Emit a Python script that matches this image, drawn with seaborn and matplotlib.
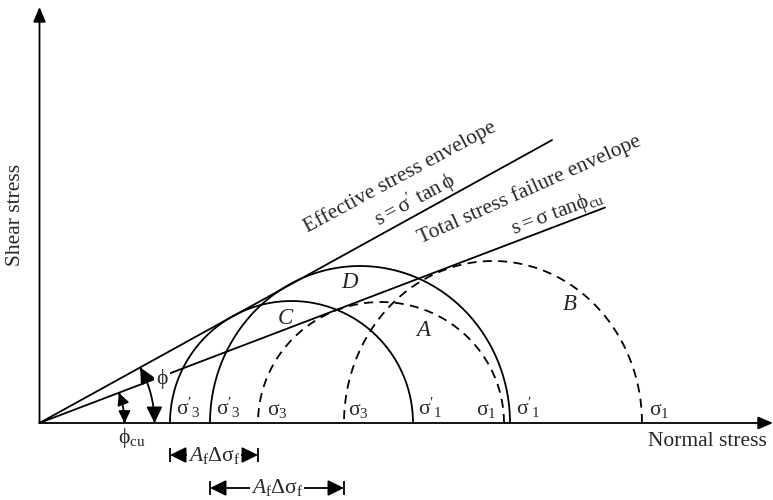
import numpy as np
import pandas as pd
import matplotlib
matplotlib.use("Agg")
import matplotlib.pyplot as plt
from matplotlib.patches import FancyArrowPatch
from matplotlib.path import Path
import seaborn as sns

# ---------------- data (arbitrary stress units) ----------------
circle_names = ["C", "D", "A", "B"]
circle_kind = ["effective", "effective", "total", "total"]
sigma3 = [130.5, 170.5, 218.5, 304.5]     # minor principal stress
sigma1 = [373.5, 470.5, 464.5, 602.5]     # major principal stress
tau_top = [122.0, 157.0, 121.0, 162.0]    # drawn peak shear stress
sigma3_labels = ["$\\sigma'_3$", "$\\sigma'_3$", "$\\sigma_3$", "$\\sigma_3$"]
sigma1_labels = ["$\\sigma'_1$", "$\\sigma'_1$", "$\\sigma_1$", "$\\sigma_1$"]

slope_eff = 0.552      # tan(phi)
slope_tot = 0.381      # tan(phi_cu)
sigma_end_eff = 512.5
sigma_end_tot = 565.5

# ---------------- style ----------------
sns.set_theme(style="white")
plt.rcParams["font.family"] = ["Liberation Serif", "DejaVu Serif"]
plt.rcParams["mathtext.fontset"] = "custom"
plt.rcParams["mathtext.rm"] = "Liberation Serif"
plt.rcParams["mathtext.it"] = "Liberation Serif:italic"
plt.rcParams["mathtext.default"] = "regular"

fig = plt.figure(figsize=(7.73, 5.0), dpi=100)
ax = fig.add_axes([0, 0, 1, 1])
ax.set_xlim(-39.5, 733.5)
ax.set_ylim(-77, 423)
ax.axis("off")

LW = 1.3
FS = 15.5

# axes arrows
ax.annotate("", xy=(733.5, 0), xytext=(0, 0),
            arrowprops=dict(arrowstyle="-|>,head_length=0.75,head_width=0.32",
                            lw=LW, color="black", shrinkA=0, shrinkB=0))
ax.annotate("", xy=(0, 416), xytext=(0, 0),
            arrowprops=dict(arrowstyle="-|>,head_length=0.75,head_width=0.32",
                            lw=LW, color="black", shrinkA=0, shrinkB=0))

# ---------------- envelopes ----------------
env = pd.DataFrame({
    "sigma": [0, sigma_end_eff, 0, sigma_end_tot],
    "tau": [0, slope_eff * sigma_end_eff, 0, slope_tot * sigma_end_tot],
    "env": ["eff", "eff", "tot", "tot"],
})
sns.lineplot(data=env, x="sigma", y="tau", units="env", estimator=None,
             sort=False, color="black", lw=LW, ax=ax, legend=False)

# ---------------- Mohr semicircles ----------------
t = np.linspace(0, np.pi, 200)
for name, kind, s3, s1, h in zip(circle_names, circle_kind, sigma3, sigma1, tau_top):
    c = (s1 + s3) / 2
    r = (s1 - s3) / 2
    d = pd.DataFrame({"sigma": c + r * np.cos(t), "tau": h * np.sin(t)})
    sns.lineplot(data=d, x="sigma", y="tau", sort=False, estimator=None,
                 color="black", lw=LW, ax=ax,
                 linestyle="-" if kind == "effective" else (0, (5, 3.5)))

# circle letters
letter_pos = {"C": (245.5, 105), "D": (310.5, 141), "A": (383.5, 93), "B": (530.5, 118)}
for n in circle_names:
    ax.text(*letter_pos[n], n, fontsize=16.5, style="italic", ha="center", va="center")

# sigma labels
s3_off = [6, 6, 9, 4]
for s, lab, off in zip(sigma3, sigma3_labels, s3_off):
    ax.text(s + off, 8, lab, fontsize=FS, ha="left", va="baseline")
s1_off = [5, 6, -8, 7]
for s, lab, off in zip(sigma1, sigma1_labels, s1_off):
    ax.text(s + off, 8, lab, fontsize=FS, ha="left" if off > 0 else "right", va="baseline")

# envelope annotations
ax.text(360.5, 246, "Effective stress envelope", fontsize=FS, rotation=28.3,
        ha="center", va="center", rotation_mode="anchor")
ax.text(375.5, 222.3, "$s = \\sigma'\\ \\mathrm{tan}\\,\\phi$", fontsize=FS, rotation=28.3,
        ha="center", va="center", rotation_mode="anchor")
ax.text(490.5, 233, "Total stress failure envelope", fontsize=FS, rotation=24,
        ha="center", va="center", rotation_mode="anchor")
ax.text(517.5, 210, "$s = \\sigma\\ \\mathrm{tan}\\phi_{cu}$", fontsize=FS, rotation=20.5,
        ha="center", va="center", rotation_mode="anchor")

# axis titles
ax.text(-23.5, 208, "Shear stress", fontsize=FS, rotation=90, ha="center", va="center")
ax.text(668, -19, "Normal stress", fontsize=FS, ha="center", va="center")

# angle arcs
def angle_arc(radius, slope, scale):
    a = np.linspace(0, np.arctan(slope), 40)
    verts = np.column_stack([radius * np.cos(a), radius * np.sin(a)])
    p = FancyArrowPatch(path=Path(verts), arrowstyle="<|-|>,head_length=0.65,head_width=0.32",
                        mutation_scale=scale, lw=LW, color="black",
                        shrinkA=0, shrinkB=0)
    ax.add_patch(p)

angle_arc(115, slope_eff, 15)
angle_arc(85, slope_tot, 11)
ax.text(122.5, 44, "$\\phi$", fontsize=FS, ha="center", va="center",
        bbox=dict(facecolor="white", edgecolor="none", pad=1))
ax.text(92, -15, "$\\phi_{cu}$", fontsize=FS, ha="center", va="center")

# A_f * delta sigma_f dimension arrows
def dim(x0, x1, y):
    ax.annotate("", xy=(x0, y), xytext=(x1, y),
                arrowprops=dict(arrowstyle="<|-|>,head_length=0.65,head_width=0.32",
                                lw=LW, color="black", shrinkA=0, shrinkB=0,
                                mutation_scale=15))
    ax.vlines([x0, x1], y - 7, y + 7, color="black", lw=LW)
    ax.text((x0 + x1) / 2, y, "$\\mathit{A}_f\\Delta\\sigma_f$", fontsize=FS,
            ha="center", va="center",
            bbox=dict(facecolor="white", edgecolor="none", pad=1))

dim(sigma3[0], sigma3[2], -32)
dim(sigma3[1], sigma3[3], -65)

fig.savefig("out.png", dpi=100)
